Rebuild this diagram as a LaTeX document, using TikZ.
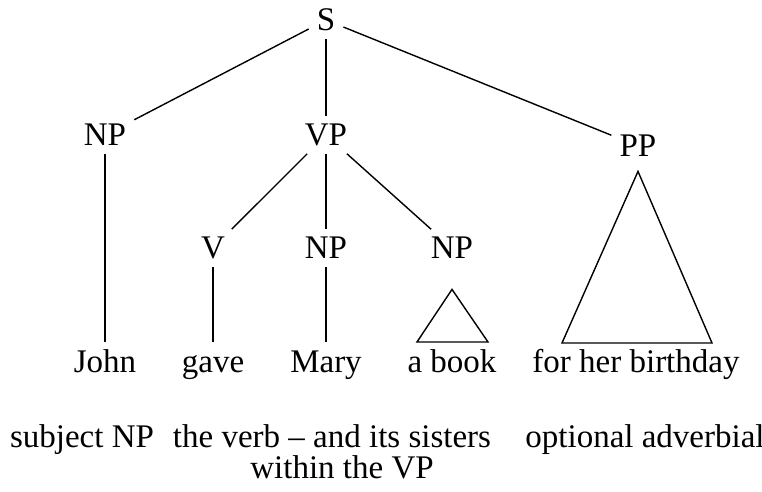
\documentclass[tikz,border=0pt]{standalone}
\usepackage{fontspec}
\setmainfont{Liberation Serif}
\usetikzlibrary{positioning}

\begin{document}
\begin{tikzpicture}[x=0.5pt,y=-0.5pt,
		cat/.style={inner sep=3pt, text height=11pt, text depth=0pt, font=\fontsize{16.5}{19}\selectfont},
		word/.style={inner sep=3pt, text height=11pt, text depth=3.5pt, font=\fontsize{16.5}{19}\selectfont},
		role/.style={inner sep=0pt, align=center, font=\fontsize{16.5}{16}\selectfont},
		branch/.style={line width=0.7pt, shorten <=1pt, shorten >=1pt}]
	\useasboundingbox (0,0) rectangle (762,492);
	% Define vertices
	\node[cat] (s) at (326,20) {S};
	\node[cat] (np1) at (105,135) {NP};
	\node[cat] (vp) at (326,135) {VP};
	\node[cat] (pp) at (638,146) {PP};
	\node[cat] (v) at (213,248) {V};
	\node[cat] (np2) at (326,248) {NP};
	\node[cat] (np3) at (452,248) {NP};
	
	% Leaves
	\node[word] (john) at (105,365) {John};
	\node[word] (gave) at (213,365) {gave};
	\node[word] (mary) at (326,365) {Mary};
	\node[word] (book) at (452,365) {a book};
	\node[word] (bday) at (636,365) {for her birthday};
	
	% Roles of the constituents
	\node[role,anchor=base] (subj) at (82,448) {subject NP};
	\node[role,anchor=base] (verb) at (332,448) {the verb -- and its sisters};
	\node[role,anchor=base] (within) at (342,479) {within the VP};
	\node[role,anchor=base] (adv) at (645,448) {optional adverbial};
	
	% Draw branches
	\draw[branch] (s) -- (np1);
	\draw[branch] (s) -- (vp);
	\draw[branch] (s) -- (pp);
	\draw[branch] (vp) -- (v);
	\draw[branch] (vp) -- (np2);
	\draw[branch] (vp) -- (np3);
	\draw[branch] (np1) -- (john);
	\draw[branch] (v) -- (gave);
	\draw[branch] (np2) -- (mary);
	
	% Triangles for unanalysed phrases
	\coordinate[below=12pt of np3.south] (bookTop);
	\coordinate (bookL) at (417,342);
	\coordinate (bookR) at (488,342);
	\draw[line width=0.7pt] (bookTop) -- (bookL) -- (bookR) -- cycle;
	\coordinate[below=4pt of pp.south] (bdayTop);
	\coordinate (bdayL) at (562,343);
	\coordinate (bdayR) at (712,343);
	\draw[line width=0.7pt] (bdayTop) -- (bdayL) -- (bdayR) -- cycle;
\end{tikzpicture}
\end{document}
